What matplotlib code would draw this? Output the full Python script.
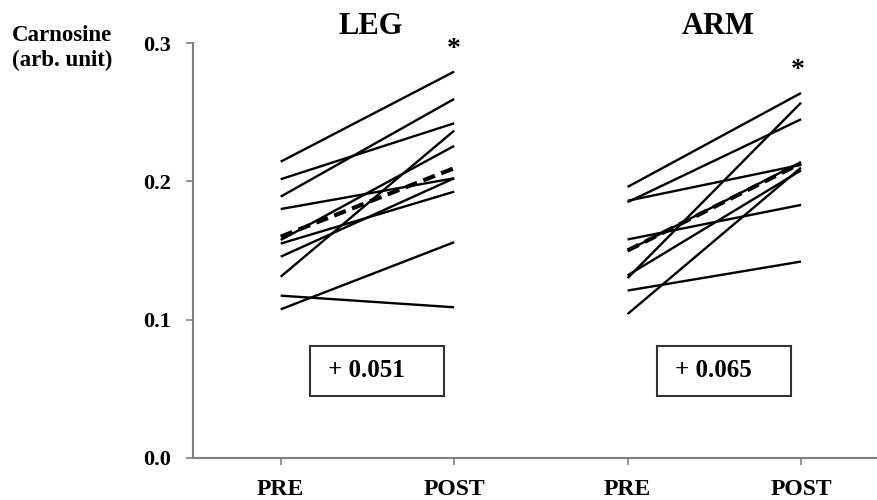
import numpy as np
import matplotlib
matplotlib.use("Agg")
import matplotlib.pyplot as plt
from matplotlib.patches import Rectangle

plt.rcParams['font.family'] = ['Liberation Serif', 'DejaVu Serif']
plt.rcParams['font.weight'] = 'bold'

# Hodnoty jednotlivych subjektu (PRE, POST)
leg_pre = [0.2143, 0.2016, 0.189, 0.180, 0.1576, 0.155, 0.1455, 0.131, 0.1173, 0.1074]
leg_post = [0.2795, 0.2421, 0.2597, 0.2023, 0.2257, 0.1926, 0.2023, 0.2368, 0.1089, 0.156]
arm_pre = [0.196, 0.185, 0.186, 0.158, 0.130, 0.132, 0.121, 0.104, 0.150]
arm_post = [0.264, 0.245, 0.212, 0.183, 0.257, 0.208, 0.142, 0.210, 0.214]

# Prumer skupiny (prerusovana cara)
leg_mean = [0.160, 0.2096]
arm_mean = [0.150, 0.2132]

groups = ["LEG", "ARM"]
deltas = ["+ 0.051", "+ 0.065"]
tick_labels = ["PRE", "POST", "PRE", "POST"]
y_ticks = [0.0, 0.1, 0.2, 0.3]

fig = plt.figure(figsize=(8.77, 5), dpi=100)
ax = fig.add_axes([0.22, 0.0846, 0.78, 0.8288])

for i, (pre, post, mean) in enumerate([(leg_pre, leg_post, leg_mean),
                                       (arm_pre, arm_post, arm_mean)]):
    x0 = 2 * i
    for a, b in zip(pre, post):
        ax.plot([x0, x0 + 1], [a, b], color="black", lw=1.7, solid_capstyle="butt")
    ax.plot([x0, x0 + 1], mean, color="black", lw=3, dashes=(3, 1.6))

    # ramecek s rozdilem
    ax.add_patch(Rectangle((x0 + 0.168, 0.0447), 0.773, 0.0364, fill=False,
                           edgecolor="#333333", lw=1.5))
    ax.text(x0 + 0.495, 0.0629, deltas[i], ha="center", va="center", fontsize=18,
            fontweight="bold")

    ax.text(x0 + 0.52, 0.312, groups[i], ha="center", va="center", fontsize=22,
            fontweight="bold", clip_on=False)

ax.text(1.0, 0.2955, "*", ha="center", va="center", fontsize=20, fontweight="bold",
        clip_on=False)
ax.text(2.98, 0.2805, "*", ha="center", va="center", fontsize=20, fontweight="bold",
        clip_on=False)

ax.set_xlim(-0.506, 3.438)
ax.set_ylim(0, 0.3)
ax.set_xticks([0, 1, 2, 3])
ax.set_xticklabels(tick_labels, fontsize=17, fontweight="bold")
ax.set_yticks(y_ticks)
ax.set_yticklabels([f"{v:.1f}" for v in y_ticks], fontsize=16, fontweight="bold")
ax.tick_params(axis="y", length=5, width=1.2, color="#808080", pad=11)
ax.tick_params(axis="x", length=5, width=1.2, color="#808080", pad=10)

for s in ["top", "right"]:
    ax.spines[s].set_visible(False)
for s in ["left", "bottom"]:
    ax.spines[s].set_color("#808080")
    ax.spines[s].set_linewidth(1.5)

fig.text(0.014, 0.904, "Carnosine\n(arb. unit)", ha="left", va="center", fontsize=16.5,
         fontweight="bold", linespacing=1.2)

fig.savefig("out.png", dpi=100)
